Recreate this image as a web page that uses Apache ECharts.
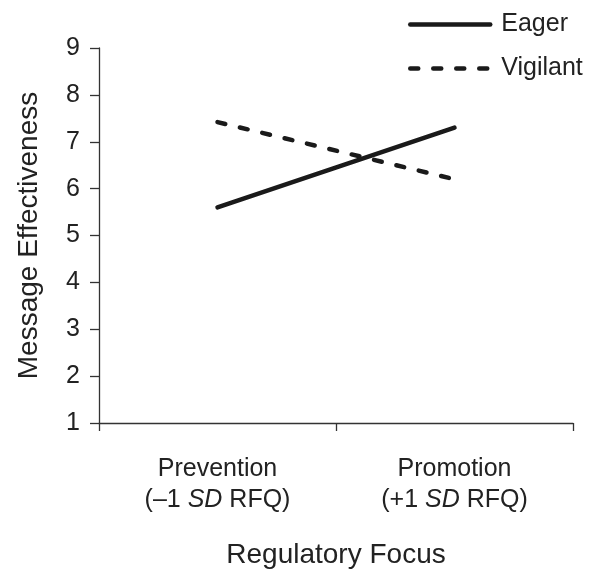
<!DOCTYPE html>
<html><head><meta charset="utf-8">
<script src="https://cdn.jsdelivr.net/npm/echarts@6/dist/echarts.min.js"></script>
<style>html,body{margin:0;padding:0;background:#fff}#c{width:598px;height:570px}</style>
</head><body><div id="c"></div>
<script>
const categories = ['Prevention', 'Promotion'];
const categorySub = ['–1', '+1'];
const eager = [5.6, 7.3];
const vigilant = [7.42, 6.2];
const yTicks = [1, 9, 1]; // min, max, interval

const FONT = '"Liberation Sans", Arial, Helvetica, sans-serif';
const INK = '#1a1a1a';
const TXT = '#222';
const chart = echarts.init(document.getElementById('c'), null, {renderer: 'canvas'});
chart.setOption({
  animation: false,
  backgroundColor: '#fff',
  grid: {left: 99, right: 25, top: 48, bottom: 147, containLabel: false, outerBoundsMode: 'none'},
  legend: {
    orient: 'vertical', left: 403, top: 7,
    itemWidth: 80, itemHeight: 25, itemGap: 19,
    itemStyle: {opacity: 0},
    lineStyle: {width: 4.5, color: INK},
    textStyle: {fontFamily: FONT, fontSize: 25, color: TXT, lineHeight: 25, padding: [0, 0, 0, 6]},
    data: ['Eager', 'Vigilant']
  },
  xAxis: {
    type: 'category', data: categories, boundaryGap: true,
    name: 'Regulatory Focus', nameLocation: 'middle', nameGap: 118,
    nameTextStyle: {fontFamily: FONT, fontSize: 28, color: TXT},
    axisLine: {lineStyle: {color: '#333', width: 1.3}},
    axisTick: {show: true, length: 8, lineStyle: {color: '#333', width: 1.3}},
    axisLabel: {
      margin: 31, lineHeight: 31,
      formatter: function (v, i) {
        return '{n|' + v + '}\n{n|(' + categorySub[i] + ' }{i|SD}{n| RFQ)}';
      },
      rich: {
        n: {fontFamily: FONT, fontSize: 25, color: TXT, lineHeight: 31},
        i: {fontFamily: FONT, fontSize: 25, color: TXT, fontStyle: 'italic', lineHeight: 31}
      }
    }
  },
  yAxis: {
    type: 'value', min: yTicks[0], max: yTicks[1], interval: yTicks[2],
    name: 'Message Effectiveness', nameLocation: 'middle', nameGap: 56, nameRotate: 90,
    nameTextStyle: {fontFamily: FONT, fontSize: 28, color: TXT},
    axisLine: {show: true, lineStyle: {color: '#333', width: 1.3}},
    axisTick: {show: true, length: 9, lineStyle: {color: '#333', width: 1.3}},
    splitLine: {show: false},
    axisLabel: {margin: 19, fontFamily: FONT, fontSize: 25, color: TXT}
  },
  series: [
    {name: 'Eager', type: 'line', data: eager, symbol: 'none',
     lineStyle: {color: INK, width: 4.5, cap: 'round'}, itemStyle: {color: INK}},
    {name: 'Vigilant', type: 'line', data: vigilant, symbol: 'none',
     lineStyle: {color: INK, width: 4.5, type: [8, 15], cap: 'round'}, itemStyle: {color: INK}}
  ]
});
</script></body></html>
